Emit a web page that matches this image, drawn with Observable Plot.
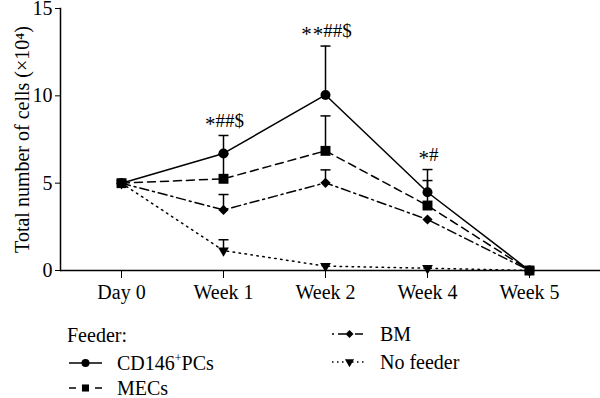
<!DOCTYPE html>
<html>
<head>
<meta charset="utf-8">
<script src="https://cdn.jsdelivr.net/npm/d3@7"></script>
<script src="https://cdn.jsdelivr.net/npm/@observablehq/plot@0.6"></script>
<style>
  html, body { margin: 0; padding: 0; background: #fff; }
  #wrap { position: relative; width: 600px; height: 398px; font-family: "Liberation Serif", "DejaVu Serif", serif; color: #000; }
  .lg { position: absolute; font-size: 20px; line-height: 16px; height: 16px; white-space: nowrap; display: flex; align-items: center; }
  sup { font-size: 12px; vertical-align: 8px; line-height: 0; }
</style>
</head>
<body>
<div id="wrap"></div>
<script>
const categories = ["Day 0", "Week 1", "Week 2", "Week 4", "Week 5"];
const seriesNames = ["CD146+PCs", "MECs", "BM", "No feeder"];
const pcsValues   = [5, 6.70, 10.05, 4.48, 0];
const pcsErrors   = [0, 1.03, 2.80, 1.30, 0];
const mecsValues  = [5, 5.25, 6.85, 3.72, 0];
const mecsErrors  = [0, 1.43, 2.00, 1.43, 0];
const bmValues    = [5, 3.47, 5.02, 2.92, 0];
const bmErrors    = [0, 0.88, 0.74, 0, 0];
const nfValues    = [5, 1.14, 0.25, 0.13, 0];
const nfErrors    = [0, 0.62, 0, 0, 0];
const annotations = ["", "*##$", "**##$", "*#", ""];
const yTicks = [0, 5, 10, 15];

const triDown = {
  draw(ctx, size) {
    const a = Math.sqrt(4 * size / Math.sqrt(3));
    const h = a * Math.sqrt(3) / 2;
    ctx.moveTo(-a / 2, -h / 3);
    ctx.lineTo(a / 2, -h / 3);
    ctx.lineTo(0, 2 * h / 3);
    ctx.closePath();
  }
};
const capSymbol = {
  draw(ctx, size) {
    ctx.moveTo(-5, 0);
    ctx.lineTo(5, 0);
  }
};

const styles = [
  {dash: null, symbol: d3.symbolCircle, r: 5, lr: 4, legendDash: null},
  {dash: "8,5", symbol: d3.symbolSquare, r: 5.6, lr: 4, legendDash: "7,19,7"},
  {dash: "9,4,2,4", symbol: d3.symbolDiamond2, r: 4.6, lr: 3.6, legendDash: "2,4,8,9,8,4"},
  {dash: "1.5,4.5", symbol: triDown, r: 4, lr: 3.4, legendDash: "1.5,3.5"}
];

const valueSets = [pcsValues, mecsValues, bmValues, nfValues];
const errorSets = [pcsErrors, mecsErrors, bmErrors, nfErrors];

const rows = [];
seriesNames.forEach((s, si) => {
  categories.forEach((c, i) => {
    rows.push({series: s, si, x: c, y: valueSets[si][i], err: errorSets[si][i]});
  });
});
const errRows = rows.filter(d => d.err > 0);

const annRows = categories.map((c, i) => ({
  x: c,
  label: annotations[i],
  top: Math.max(...valueSets.map((v, k) => v[i] + errorSets[k][i]))
})).filter(d => d.label);

const marks = [
  Plot.ruleY([0], {strokeWidth: 1.5}),
  Plot.frame({anchor: "left", strokeWidth: 1.5}),
  Plot.ruleX(errRows, {x: "x", y1: "y", y2: d => d.y + d.err, strokeWidth: 1.5}),
  Plot.dot(errRows, {x: "x", y: d => d.y + d.err, symbol: () => capSymbol, r: 4, stroke: "black", fill: "none", strokeWidth: 1.5})
];
seriesNames.forEach((s, si) => {
  const data = rows.filter(d => d.si === si);
  marks.push(Plot.line(data, {x: "x", y: "y", stroke: "black", strokeWidth: 1.5, strokeDasharray: styles[si].dash}));
});
seriesNames.slice().reverse().forEach((s, k) => {
  const si = seriesNames.length - 1 - k;
  const data = rows.filter(d => d.si === si);
  marks.push(Plot.dot(data, {x: "x", y: "y", r: styles[si].r, symbol: () => styles[si].symbol, fill: "black", stroke: "none"}));
});
marks.push(Plot.text(annRows, {x: "x", y: "top", text: "label", dy: -15, fontSize: 19, fill: "black"}));

const chart = Plot.plot({
  width: 600,
  height: 310,
  marginLeft: 60,
  marginRight: 0,
  marginTop: 8,
  marginBottom: 40,
  style: {fontFamily: "Liberation Serif, serif", fontSize: "20px", color: "black", background: "white", overflow: "visible"},
  x: {type: "point", domain: categories, padding: 0.64, align: 0.46, label: null, tickSize: 8, tickPadding: 6},
  y: {domain: [0, 15], ticks: yTicks, tickSize: 5, tickPadding: 3, label: "Total number of cells (\u00d710\u2074)", labelAnchor: "center", labelArrow: false, labelOffset: 46},
  symbol: {type: "identity"},
  marks
});
document.getElementById("wrap").appendChild(chart);

// Lower the asterisks in the annotations to sit mid-height, as in the reference
d3.select(chart).selectAll("text")
  .filter(function() { return this.textContent.includes("*"); })
  .each(function() {
    const t = d3.select(this);
    const str = this.textContent;
    t.selectAll("*").remove();
    t.text(null);
    let shift = 0;
    for (const ch of str) {
      const want = ch === "*" ? 4 : 0;
      const sp = t.append("tspan").attr("dy", want - shift).attr("dx", ch === "*" ? 1 : 0).text(ch);
      if (ch === "*") sp.attr("font-size", 21);
      shift = want;
    }
  });

// Legend
const legend = [
  {text: "Feeder:", left: 67, top: 327, si: -1, sw: 0, gap: 0},
  {text: "CD146<sup>+</sup>PCs", left: 69, top: 355, si: 0, sw: 33, gap: 15},
  {text: "MECs", left: 69, top: 380, si: 1, sw: 33, gap: 15},
  {text: "BM", left: 332, top: 326, si: 2, sw: 35, gap: 13},
  {text: "No feeder", left: 332, top: 354, si: 3, sw: 35, gap: 13}
];
legend.forEach(item => {
  const div = document.createElement("div");
  div.className = "lg";
  div.style.left = item.left + "px";
  div.style.top = item.top + "px";
  if (item.si >= 0) {
    const st = styles[item.si];
    const sw = item.sw, sh = 16;
    const svg = d3.create("svg").attr("width", sw).attr("height", sh).style("margin-right", item.gap + "px");
    const line = svg.append("line").attr("x1", 0).attr("x2", sw).attr("y1", sh / 2).attr("y2", sh / 2)
      .attr("stroke", "black").attr("stroke-width", 1.5);
    if (st.legendDash) line.attr("stroke-dasharray", st.legendDash);
    svg.append("path").attr("transform", `translate(${sw / 2},${sh / 2})`)
      .attr("d", d3.symbol(st.symbol, Math.PI * st.lr * st.lr)()).attr("fill", "black");
    div.appendChild(svg.node());
  }
  const span = document.createElement("span");
  span.innerHTML = item.text;
  div.appendChild(span);
  document.getElementById("wrap").appendChild(div);
});
</script>
</body>
</html>
